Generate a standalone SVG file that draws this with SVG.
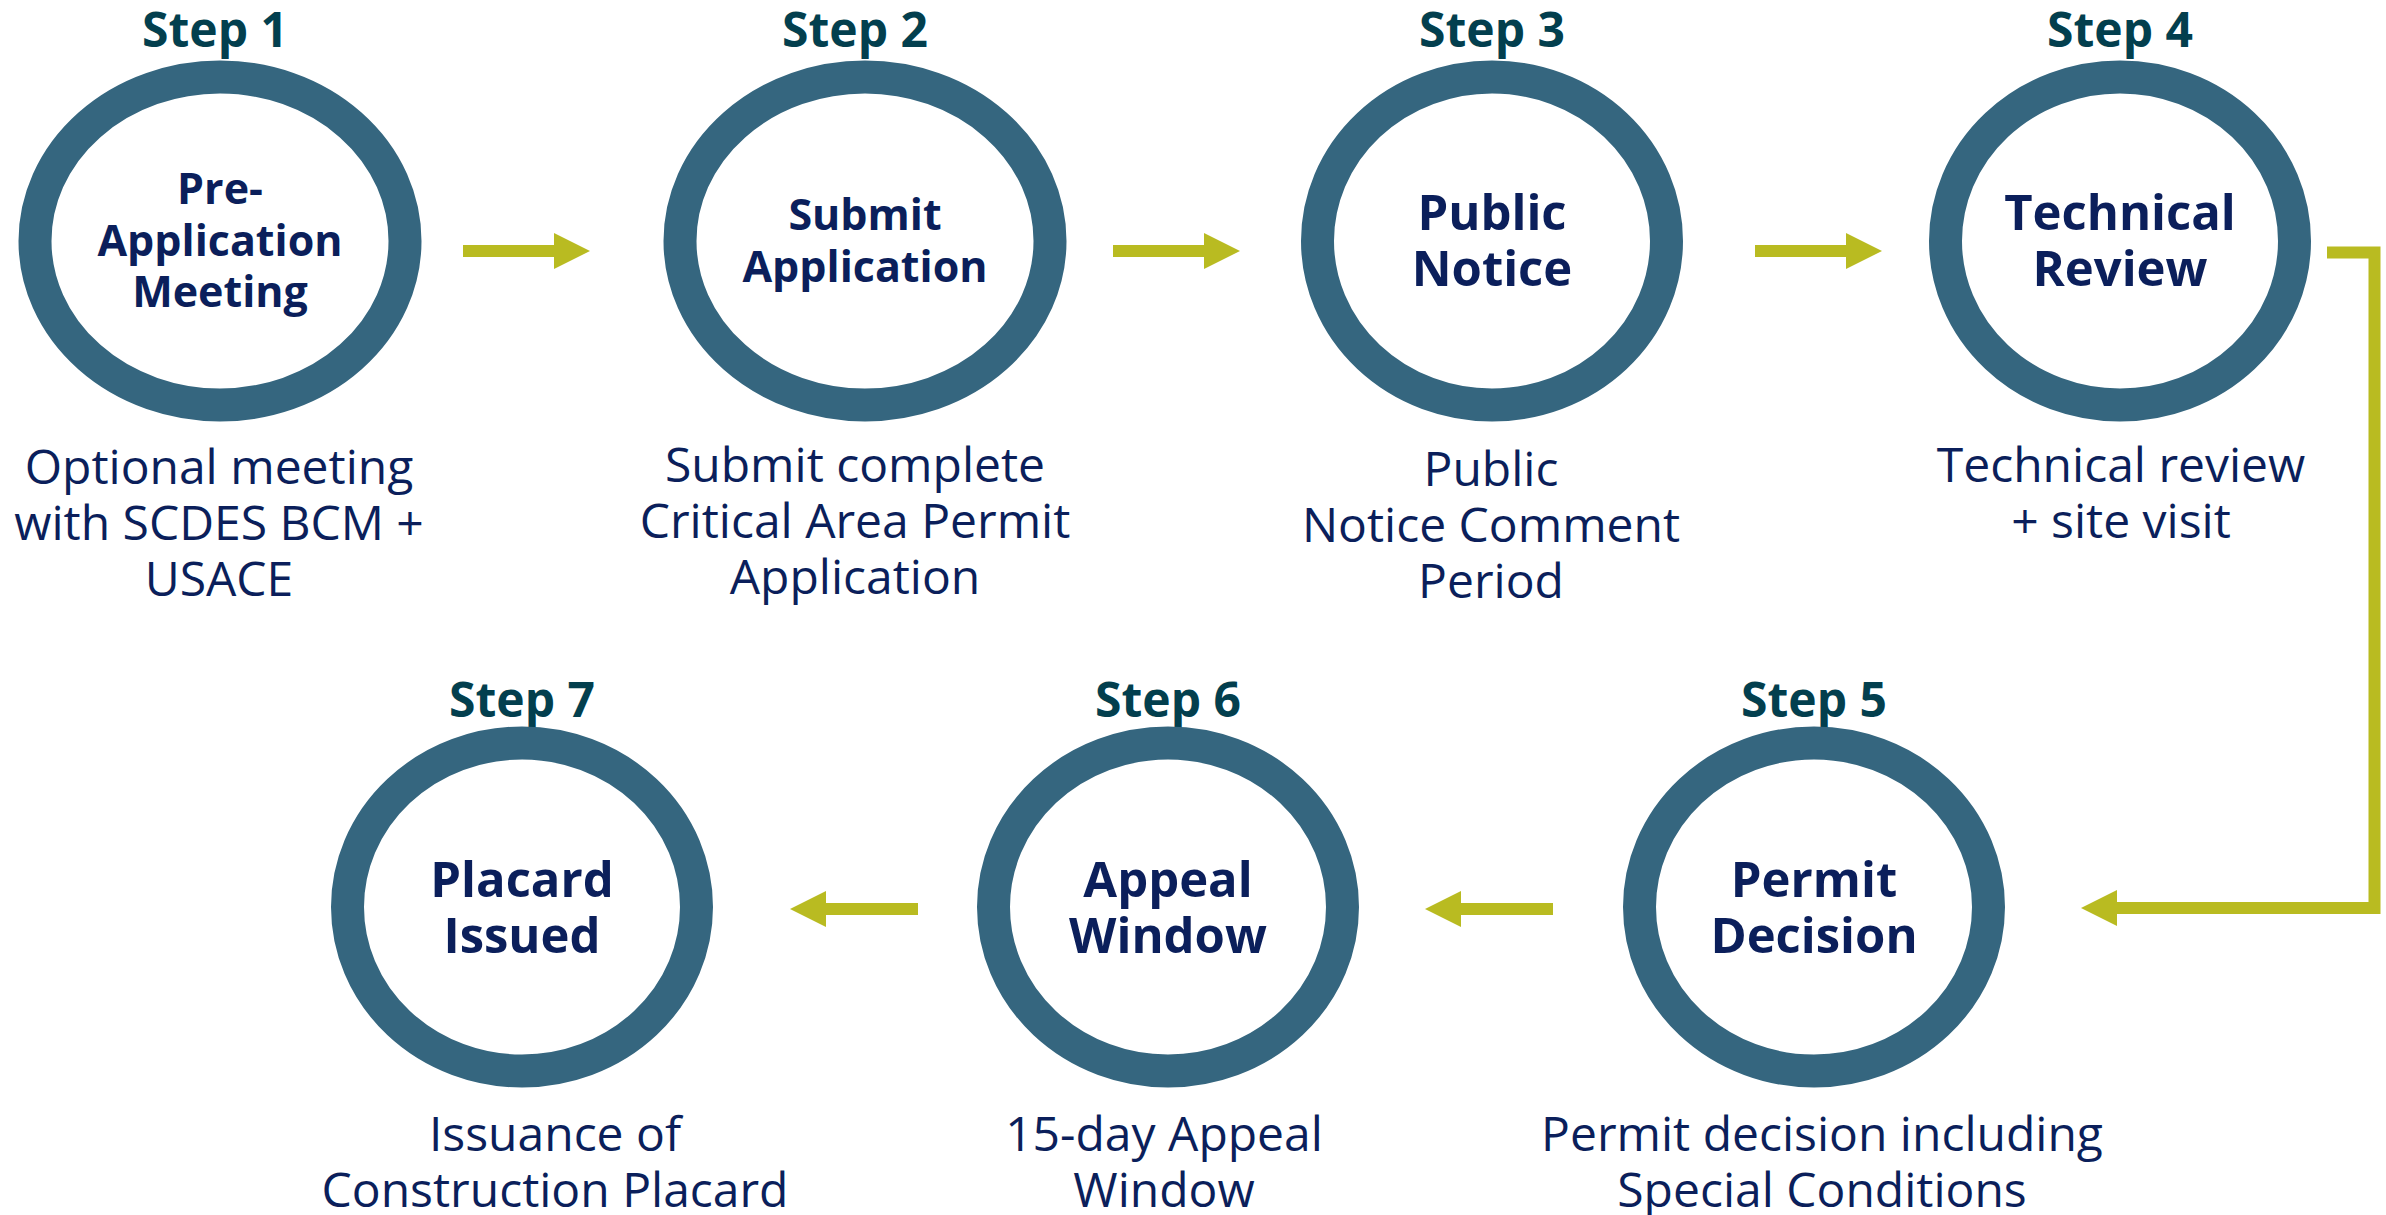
<svg xmlns="http://www.w3.org/2000/svg" width="2386" height="1215" viewBox="0 0 2386 1215">
<style>
.ring{fill:#ffffff;stroke:#35667f;stroke-width:33}
.step{font-family:"Open Sans","Noto Sans",sans-serif;font-weight:700;font-size:48px;fill:#033f4e;text-anchor:middle}
.title{font-family:"Open Sans","Noto Sans",sans-serif;font-weight:700;fill:#0b1f5b;text-anchor:middle}
.t1{font-size:43px}
.t2{font-size:49px}
.desc{font-family:"Open Sans","Noto Sans",sans-serif;font-weight:400;font-size:48px;fill:#0b1f5b;text-anchor:middle}
.conn{fill:none;stroke:#b9bb21;stroke-width:12;stroke-linejoin:miter}
</style>
<defs>
<marker id="ah" markerUnits="userSpaceOnUse" markerWidth="36" markerHeight="36" refX="0" refY="18" orient="auto">
<path d="M0,0 L36,18 L0,36 Z" fill="#b9bb21"/>
</marker>
</defs>
<rect width="2386" height="1215" fill="#ffffff"/>
<g id="connectors">
<line class="conn" x1="463" y1="251" x2="554" y2="251" marker-end="url(#ah)"/>
<line class="conn" x1="1113" y1="251" x2="1204" y2="251" marker-end="url(#ah)"/>
<line class="conn" x1="1755" y1="251" x2="1846" y2="251" marker-end="url(#ah)"/>
<polyline class="conn" points="2327,252.5 2374.5,252.5 2374.5,908 2117,908" marker-end="url(#ah)"/>
<line class="conn" x1="1553" y1="909" x2="1461" y2="909" marker-end="url(#ah)"/>
<line class="conn" x1="918" y1="909" x2="826" y2="909" marker-end="url(#ah)"/>
</g>
<g id="step1">
<text class="step" x="215" y="47">Step 1</text>
<ellipse class="ring" cx="220" cy="241" rx="185" ry="164"/>
<text class="title t1" x="220" y="204">Pre-</text>
<text class="title t1" x="220" y="256">Application</text>
<text class="title t1" x="220" y="307">Meeting</text>
<text class="desc" x="219" y="484">Optional meeting</text>
<text class="desc" x="219" y="540">with SCDES BCM +</text>
<text class="desc" x="219" y="596">USACE</text>
</g>
<g id="step2">
<text class="step" x="855" y="47">Step 2</text>
<ellipse class="ring" cx="865" cy="241" rx="185" ry="164"/>
<text class="title t1" x="865" y="230">Submit</text>
<text class="title t1" x="865" y="282">Application</text>
<text class="desc" x="855" y="482">Submit complete</text>
<text class="desc" x="855" y="538">Critical Area Permit</text>
<text class="desc" x="855" y="594">Application</text>
</g>
<g id="step3">
<text class="step" x="1492" y="47">Step 3</text>
<ellipse class="ring" cx="1492" cy="241" rx="174.5" ry="164"/>
<text class="title t2" x="1492" y="230">Public</text>
<text class="title t2" x="1492" y="286">Notice</text>
<text class="desc" x="1491" y="486">Public</text>
<text class="desc" x="1491" y="542">Notice Comment</text>
<text class="desc" x="1491" y="598">Period</text>
</g>
<g id="step4">
<text class="step" x="2120" y="47">Step 4</text>
<ellipse class="ring" cx="2120" cy="241" rx="174.5" ry="164"/>
<text class="title t2" x="2120" y="230">Technical</text>
<text class="title t2" x="2120" y="286">Review</text>
<text class="desc" x="2121" y="482">Technical review</text>
<text class="desc" x="2121" y="538">+ site visit</text>
</g>
<g id="step5">
<text class="step" x="1814" y="717">Step 5</text>
<ellipse class="ring" cx="1814" cy="907" rx="174.5" ry="164"/>
<text class="title t2" x="1814" y="897">Permit</text>
<text class="title t2" x="1814" y="953">Decision</text>
<text class="desc" x="1822" y="1151">Permit decision including</text>
<text class="desc" x="1822" y="1207">Special Conditions</text>
</g>
<g id="step6">
<text class="step" x="1168" y="717">Step 6</text>
<ellipse class="ring" cx="1168" cy="907" rx="174.5" ry="164"/>
<text class="title t2" x="1168" y="897">Appeal</text>
<text class="title t2" x="1168" y="953">Window</text>
<text class="desc" x="1164" y="1151">15-day Appeal</text>
<text class="desc" x="1164" y="1207">Window</text>
</g>
<g id="step7">
<text class="step" x="522" y="717">Step 7</text>
<ellipse class="ring" cx="522" cy="907" rx="174.5" ry="164"/>
<text class="title t2" x="522" y="897">Placard</text>
<text class="title t2" x="522" y="953">Issued</text>
<text class="desc" x="555" y="1151">Issuance of</text>
<text class="desc" x="555" y="1207">Construction Placard</text>
</g>
</svg>
